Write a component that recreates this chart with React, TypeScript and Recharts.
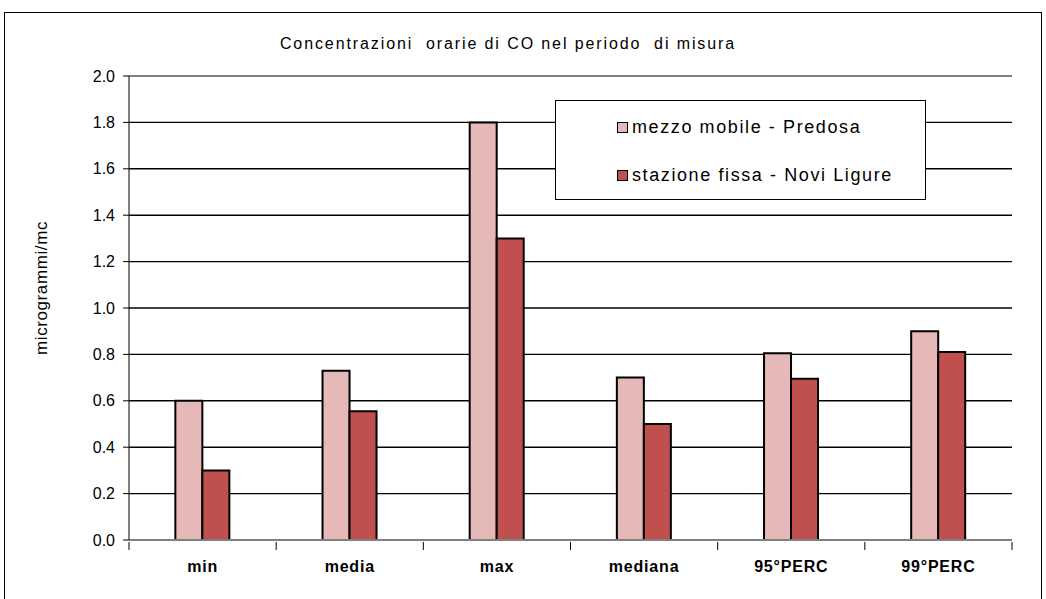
import React from "react";
import {
  BarChart,
  Bar,
  XAxis,
  YAxis,
  CartesianGrid,
  ReferenceLine,
} from "recharts";

const categories = ["min", "media", "max", "mediana", "95°PERC", "99°PERC"];
const mobileValues = [0.6, 0.73, 1.8, 0.7, 0.805, 0.9];
const fixedValues = [0.3, 0.555, 1.3, 0.5, 0.695, 0.81];
const seriesNames = ["mezzo mobile - Predosa", "stazione fissa - Novi Ligure"];
const seriesColors = ["#E6B8B7", "#C0504D"];
const yTicks = [0, 0.2, 0.4, 0.6, 0.8, 1.0, 1.2, 1.4, 1.6, 1.8, 2.0];

const data = categories.map((name, i) => ({
  name,
  mobile: mobileValues[i],
  fixed: fixedValues[i],
}));

const W = 1046;
const H = 599;
const PLOT_LEFT = 129;
const PLOT_RIGHT = 1012;
const BAND = (PLOT_RIGHT - PLOT_LEFT) / categories.length;
const FONT = "'Liberation Sans', Arial, sans-serif";

// category labels plus tick marks on the boundaries between groups
const CategoryTick = (props: any) => {
  const { x, y, payload, index } = props;
  const left = x - BAND / 2;
  return (
    <g>
      <line x1={left} y1={y - 6} x2={left} y2={y + 2} stroke="#000" />
      {index === categories.length - 1 && (
        <line x1={left + BAND} y1={y - 6} x2={left + BAND} y2={y + 2} stroke="#000" />
      )}
      <text
        x={x}
        y={y + 24}
        textAnchor="middle"
        fontFamily={FONT}
        fontSize={16}
        fontWeight="bold"
        letterSpacing={0.8}
        fill="#000"
      >
        {payload.value}
      </text>
    </g>
  );
};

const LegendBox = () => (
  <div
    style={{
      position: "absolute",
      left: 555,
      top: 100,
      border: "1.5px solid #000",
      background: "#fff",
      width: 371,
      height: 100,
      boxSizing: "border-box",
      padding: "14px 0 0 61px",
      fontFamily: FONT,
      fontSize: 18,
      letterSpacing: 1.6,
      color: "#000",
    }}
  >
    {seriesNames.map((name, i) => (
      <div
        key={name}
        style={{ display: "flex", alignItems: "center", height: 24, marginBottom: i === 0 ? 24 : 0 }}
      >
        <span
          style={{
            display: "inline-block",
            width: 9,
            height: 9,
            background: seriesColors[i],
            border: "1px solid #000",
            marginRight: 4,
          }}
        />
        {name}
      </div>
    ))}
  </div>
);

export default function App() {
  return (
    <div style={{ position: "absolute", left: 0, top: 0, width: W, height: H, background: "#fff", overflow: "hidden" }}>
      {/* frame around the whole chart */}
      <div
        style={{
          position: "absolute",
          left: 4,
          top: 12,
          width: 1036,
          height: 600,
          borderLeft: "1.5px solid #000",
          borderTop: "1.5px solid #000",
          borderRight: "1.5px solid #000",
        }}
      />
      <div
        style={{
          position: "absolute",
          left: 0,
          top: 35,
          width: 1016,
          textAlign: "center",
          fontFamily: FONT,
          fontSize: 16,
          letterSpacing: 1.9,
          color: "#000",
        }}
      >
        Concentrazioni&nbsp; orarie di CO nel periodo&nbsp; di misura
      </div>
      <div
        style={{
          position: "absolute",
          left: 42,
          top: 288,
          transform: "translate(-50%, -50%) rotate(-90deg)",
          fontFamily: FONT,
          fontSize: 17,
          letterSpacing: 0.6,
          color: "#000",
          whiteSpace: "nowrap",
        }}
      >
        microgrammi/mc
      </div>
      <div style={{ position: "absolute", left: 0, top: 0 }}>
        <BarChart
          width={W}
          height={H}
          data={data}
          margin={{ top: 76, right: W - PLOT_RIGHT, bottom: 19, left: 0 }}
          barCategoryGap="31.5%"
          barGap={0}
        >
          <CartesianGrid horizontal vertical={false} stroke="#000" strokeWidth={1.4} />
          <ReferenceLine y={2} stroke="#808080" strokeWidth={2} />
          <XAxis
            dataKey="name"
            height={40}
            axisLine={{ stroke: "#808080", strokeWidth: 2 }}
            tickLine={false}
            tick={<CategoryTick />}
            interval={0}
          />
          <YAxis
            width={PLOT_LEFT}
            domain={[0, 2]}
            ticks={yTicks}
            tickFormatter={(v: number) => v.toFixed(1)}
            axisLine={{ stroke: "#000" }}
            tickLine={{ stroke: "#000" }}
            tickSize={6}
            tickMargin={8}
            tick={{ fontFamily: FONT, fontSize: 16, fill: "#000" }}
          />
          <YAxis
            yAxisId="right"
            orientation="right"
            width={0}
            domain={[0, 2]}
            tick={false}
            tickLine={false}
            axisLine={{ stroke: "#808080", strokeWidth: 2 }}
          />
          <Bar
            dataKey="mobile"
            name={seriesNames[0]}
            fill={seriesColors[0]}
            stroke="#000"
            strokeWidth={2}
            isAnimationActive={false}
          />
          <Bar
            dataKey="fixed"
            name={seriesNames[1]}
            fill={seriesColors[1]}
            stroke="#000"
            strokeWidth={2}
            isAnimationActive={false}
          />
        </BarChart>
      </div>
      <LegendBox />
    </div>
  );
}
